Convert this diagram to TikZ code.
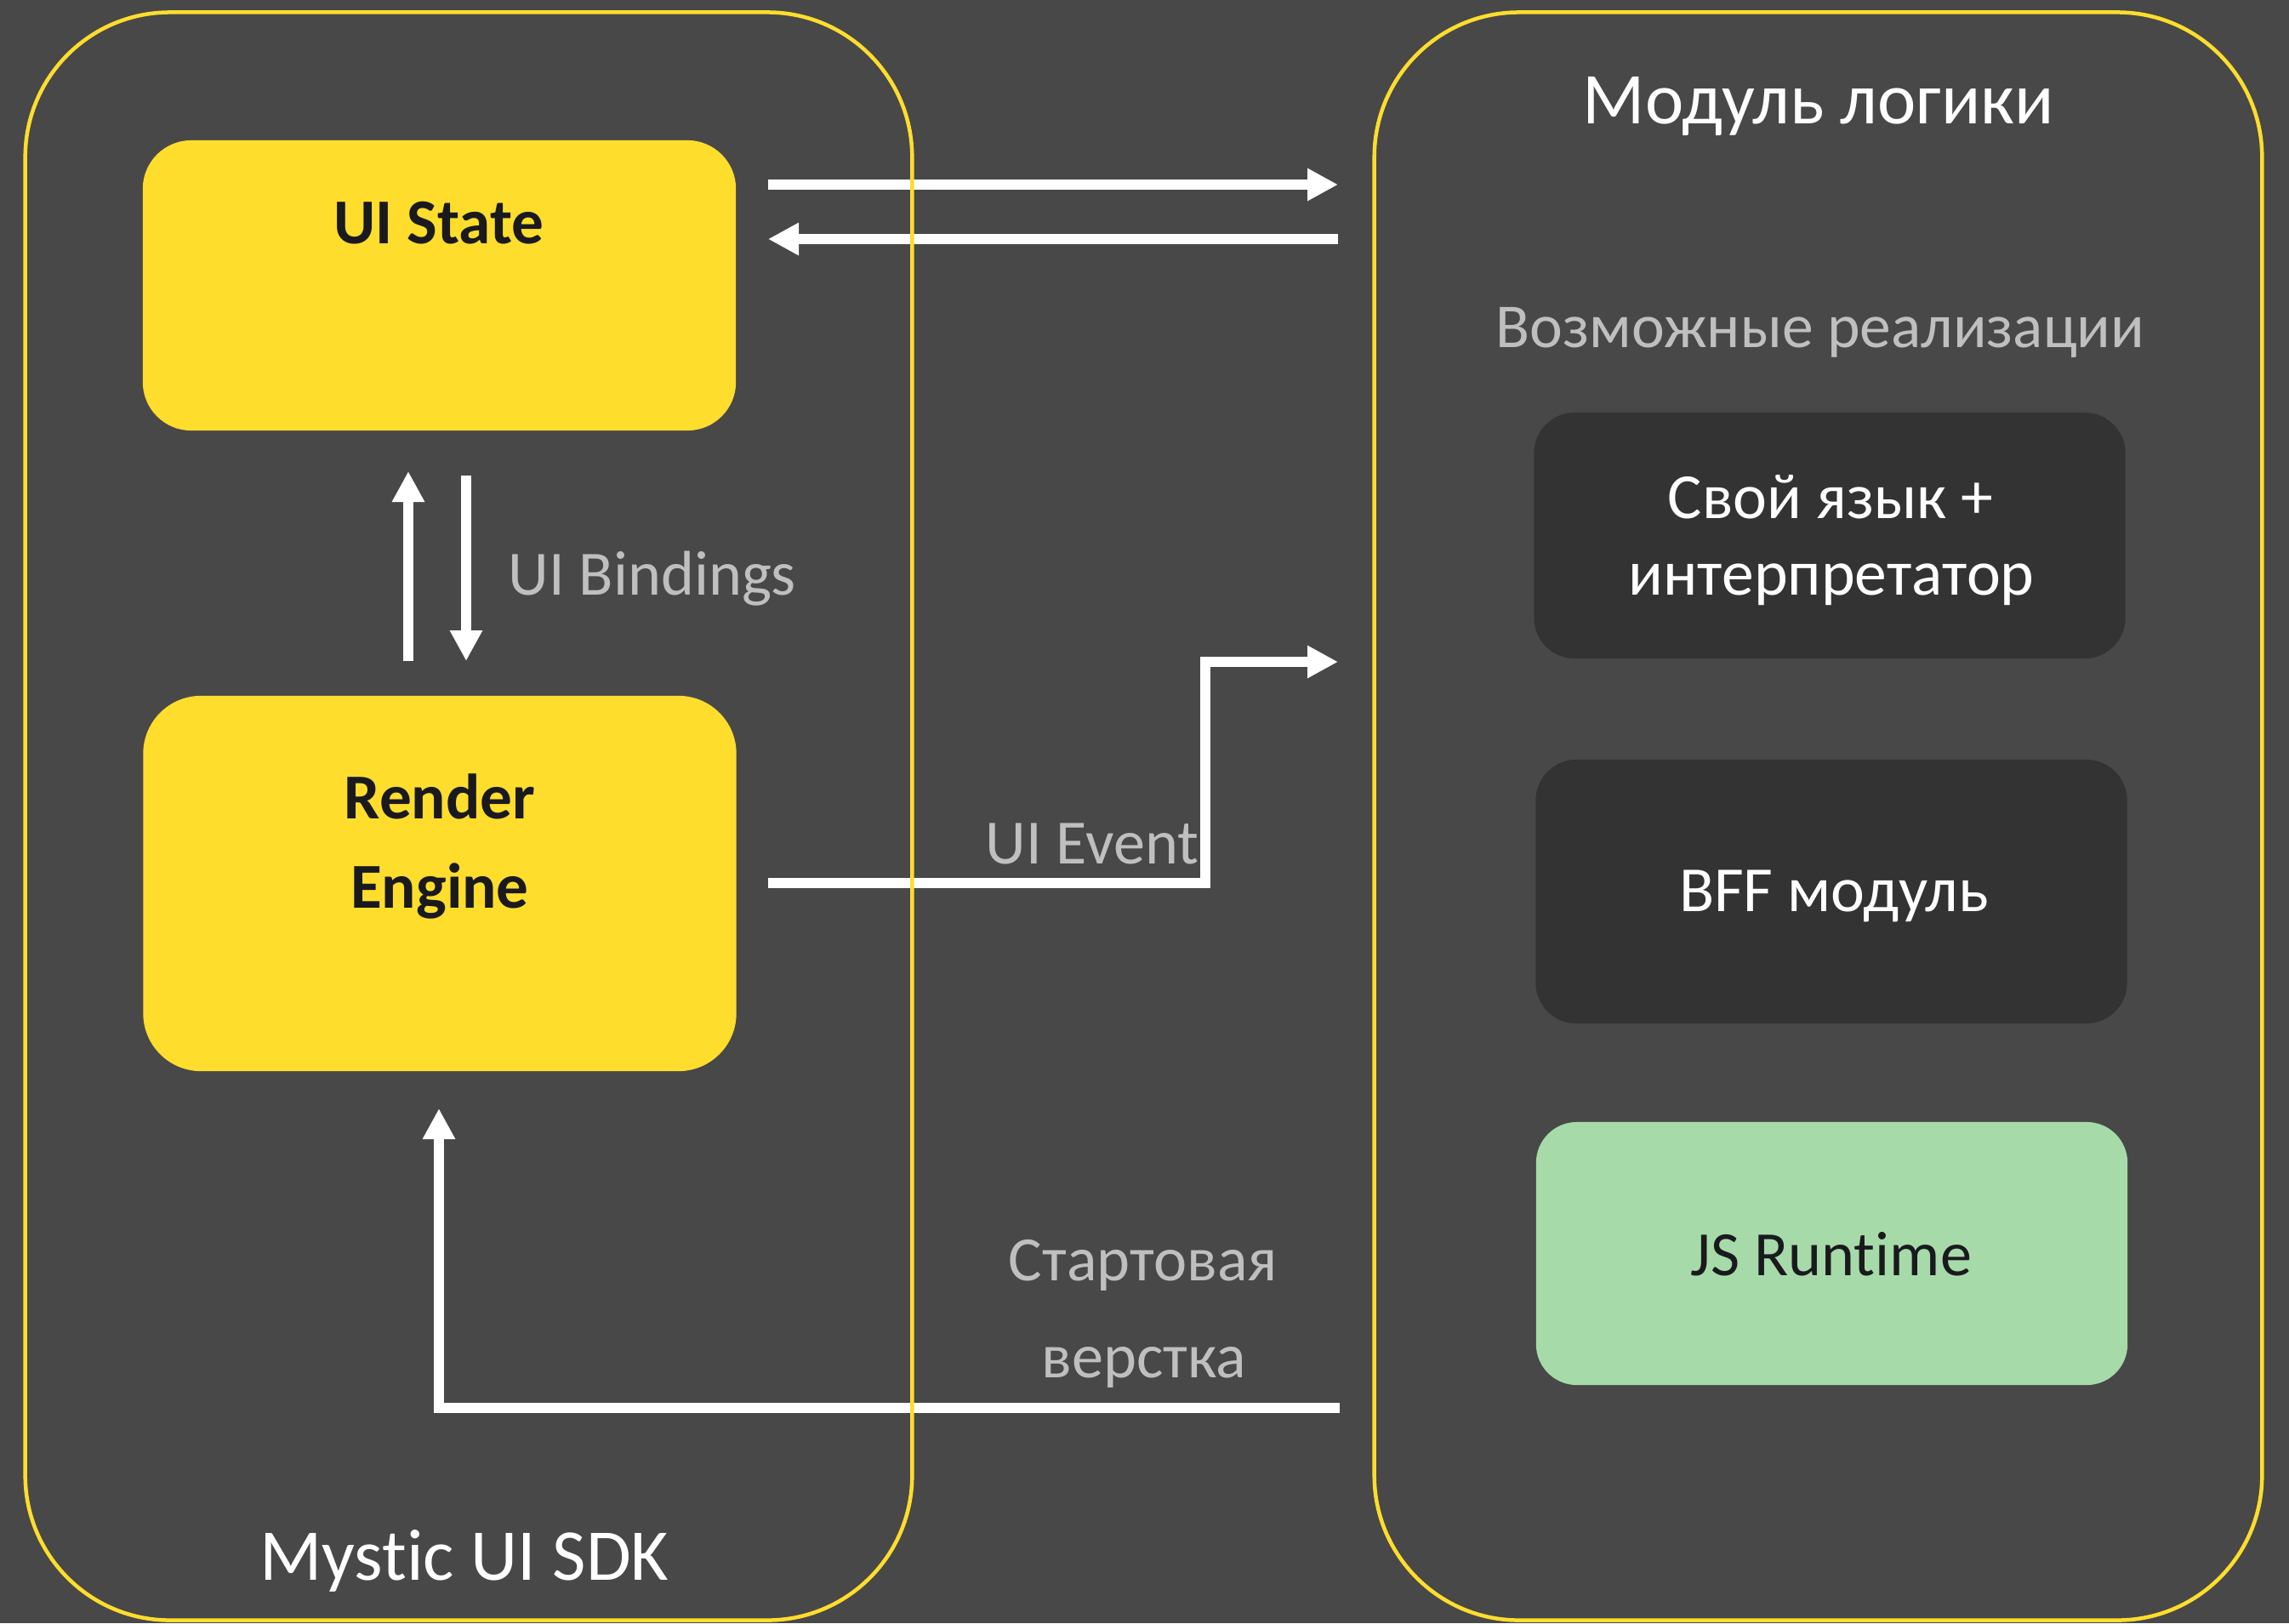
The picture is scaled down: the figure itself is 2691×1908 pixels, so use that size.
\documentclass[tikz,border=0pt]{standalone}
\usepackage{fontspec}
\setmainfont{Carlito}[Ligatures={NoCommon,NoContextual}]
\usetikzlibrary{arrows.meta}

\definecolor{bg}{HTML}{484848}
\definecolor{brand}{HTML}{FFDD2D}
\definecolor{panel}{HTML}{333333}
\definecolor{mint}{HTML}{A6DBA9}
\definecolor{muted}{HTML}{BFBFBF}
\definecolor{ink}{HTML}{1A1A1E}

\begin{document}
\begin{tikzpicture}[x=0.01cm, y=-0.01cm,
  container/.style={draw=brand, line width=0.045cm, rounded corners=1.7cm,
    inner sep=0, minimum width=10.42cm, minimum height=18.89cm},
  ybox/.style={fill=brand, inner sep=0, minimum width=6.97cm},
  dbox/.style={fill=panel, rounded corners=0.48cm, inner sep=0, minimum width=6.95cm},
  flow/.style={draw=white, line width=0.12cm, -{Triangle[length=0.36cm,width=0.36cm]}},
  bigtitle/.style={text=white, font=\fontsize{24.4}{28}\selectfont, inner sep=0, anchor=base},
  boldlbl/.style={text=ink, font=\fontsize{21.4}{25}\selectfont\bfseries, inner sep=0, anchor=base},
  whitelbl/.style={text=white, font=\fontsize{21.5}{25}\selectfont, inner sep=0, anchor=base},
  darklbl/.style={text=ink, font=\fontsize{21.1}{25}\selectfont, inner sep=0, anchor=base},
  note/.style={text=muted, font=\fontsize{21.1}{25}\selectfont, inner sep=0, anchor=base},
]
  % canvas
  \fill[bg] (0,0) rectangle (2691,1908);
  \useasboundingbox (0,0) rectangle (2691,1908);

  % SDK side blocks
  \node[ybox, rounded corners=0.57cm, minimum height=3.41cm] (uistate) at (516.5,335.5) {};
  \node[boldlbl] (uistatetxt) at (516,286) {UI State};
  \node[ybox, rounded corners=0.68cm, minimum height=4.41cm] (render) at (517,1038.5) {};
  \node[boldlbl] (rendertxt1) at (517,962) {Render};
  \node[boldlbl] (rendertxt2) at (517,1067) {Engine};

  % logic module implementations
  \node[dbox, minimum height=2.89cm] (own) at (2151,629.5) {};
  \node[whitelbl] (owntxt1) at (2152,609) {Свой язык +};
  \node[whitelbl] (owntxt2) at (2153,699) {интерпретатор};
  \node[dbox, minimum height=3.10cm] (bff) at (2153,1048) {};
  \node[whitelbl] (bfftxt) at (2156,1071) {BFF модуль};
  \node[dbox, fill=mint, minimum height=3.09cm] (js) at (2153.5,1473.5) {};
  \node[darklbl] (jstxt) at (2153,1499) {JS Runtime};

  % connector end points
  \coordinate (stOut0) at (903,217);  \coordinate (stOut1) at (1573,217);
  \coordinate (stIn0)  at (1573,281); \coordinate (stIn1)  at (903,281);
  \coordinate (bUp0)   at (480,777);  \coordinate (bUp1)   at (480,554);
  \coordinate (bDn0)   at (548,559);  \coordinate (bDn1)   at (548,777);
  \coordinate (ev0)    at (903,1038); \coordinate (evBend) at (1417,778);
  \coordinate (ev1)    at (1573,778);
  \coordinate (lay0)   at (1575,1655); \coordinate (lay1)  at (516,1303);

  % connectors
  \draw[flow] (stOut0) -- (stOut1);
  \draw[flow] (stIn0) -- (stIn1);
  \draw[flow] (bUp0) -- (bUp1);
  \draw[flow] (bDn0) -- (bDn1);
  \draw[flow] (ev0) -| (evBend) -- (ev1);
  \draw[flow] (lay0) -| (lay1);

  % connector labels
  \node[note, anchor=base west] (bindtxt) at (597,699) {UI Bindings};
  \node[note] (evtxt) at (1284,1015) {UI Event};
  \node[note] (laytxt1) at (1344,1505) {Стартовая};
  \node[note] (laytxt2) at (1345,1619) {верстка};

  % outer containers (drawn over the connectors)
  \node[container] (sdk) at (551,959.5) {};
  \node[bigtitle] (sdktxt) at (546,1857) {Mystic UI SDK};
  \node[container, minimum width=10.43cm] (logic) at (2137.5,959.5) {};
  \node[bigtitle] (logictxt) at (2138,145) {Модуль логики};
  \node[note, font=\fontsize{20.9}{25}\selectfont] (impltxt) at (2140,408) {Возможные реализации};
\end{tikzpicture}
\end{document}
